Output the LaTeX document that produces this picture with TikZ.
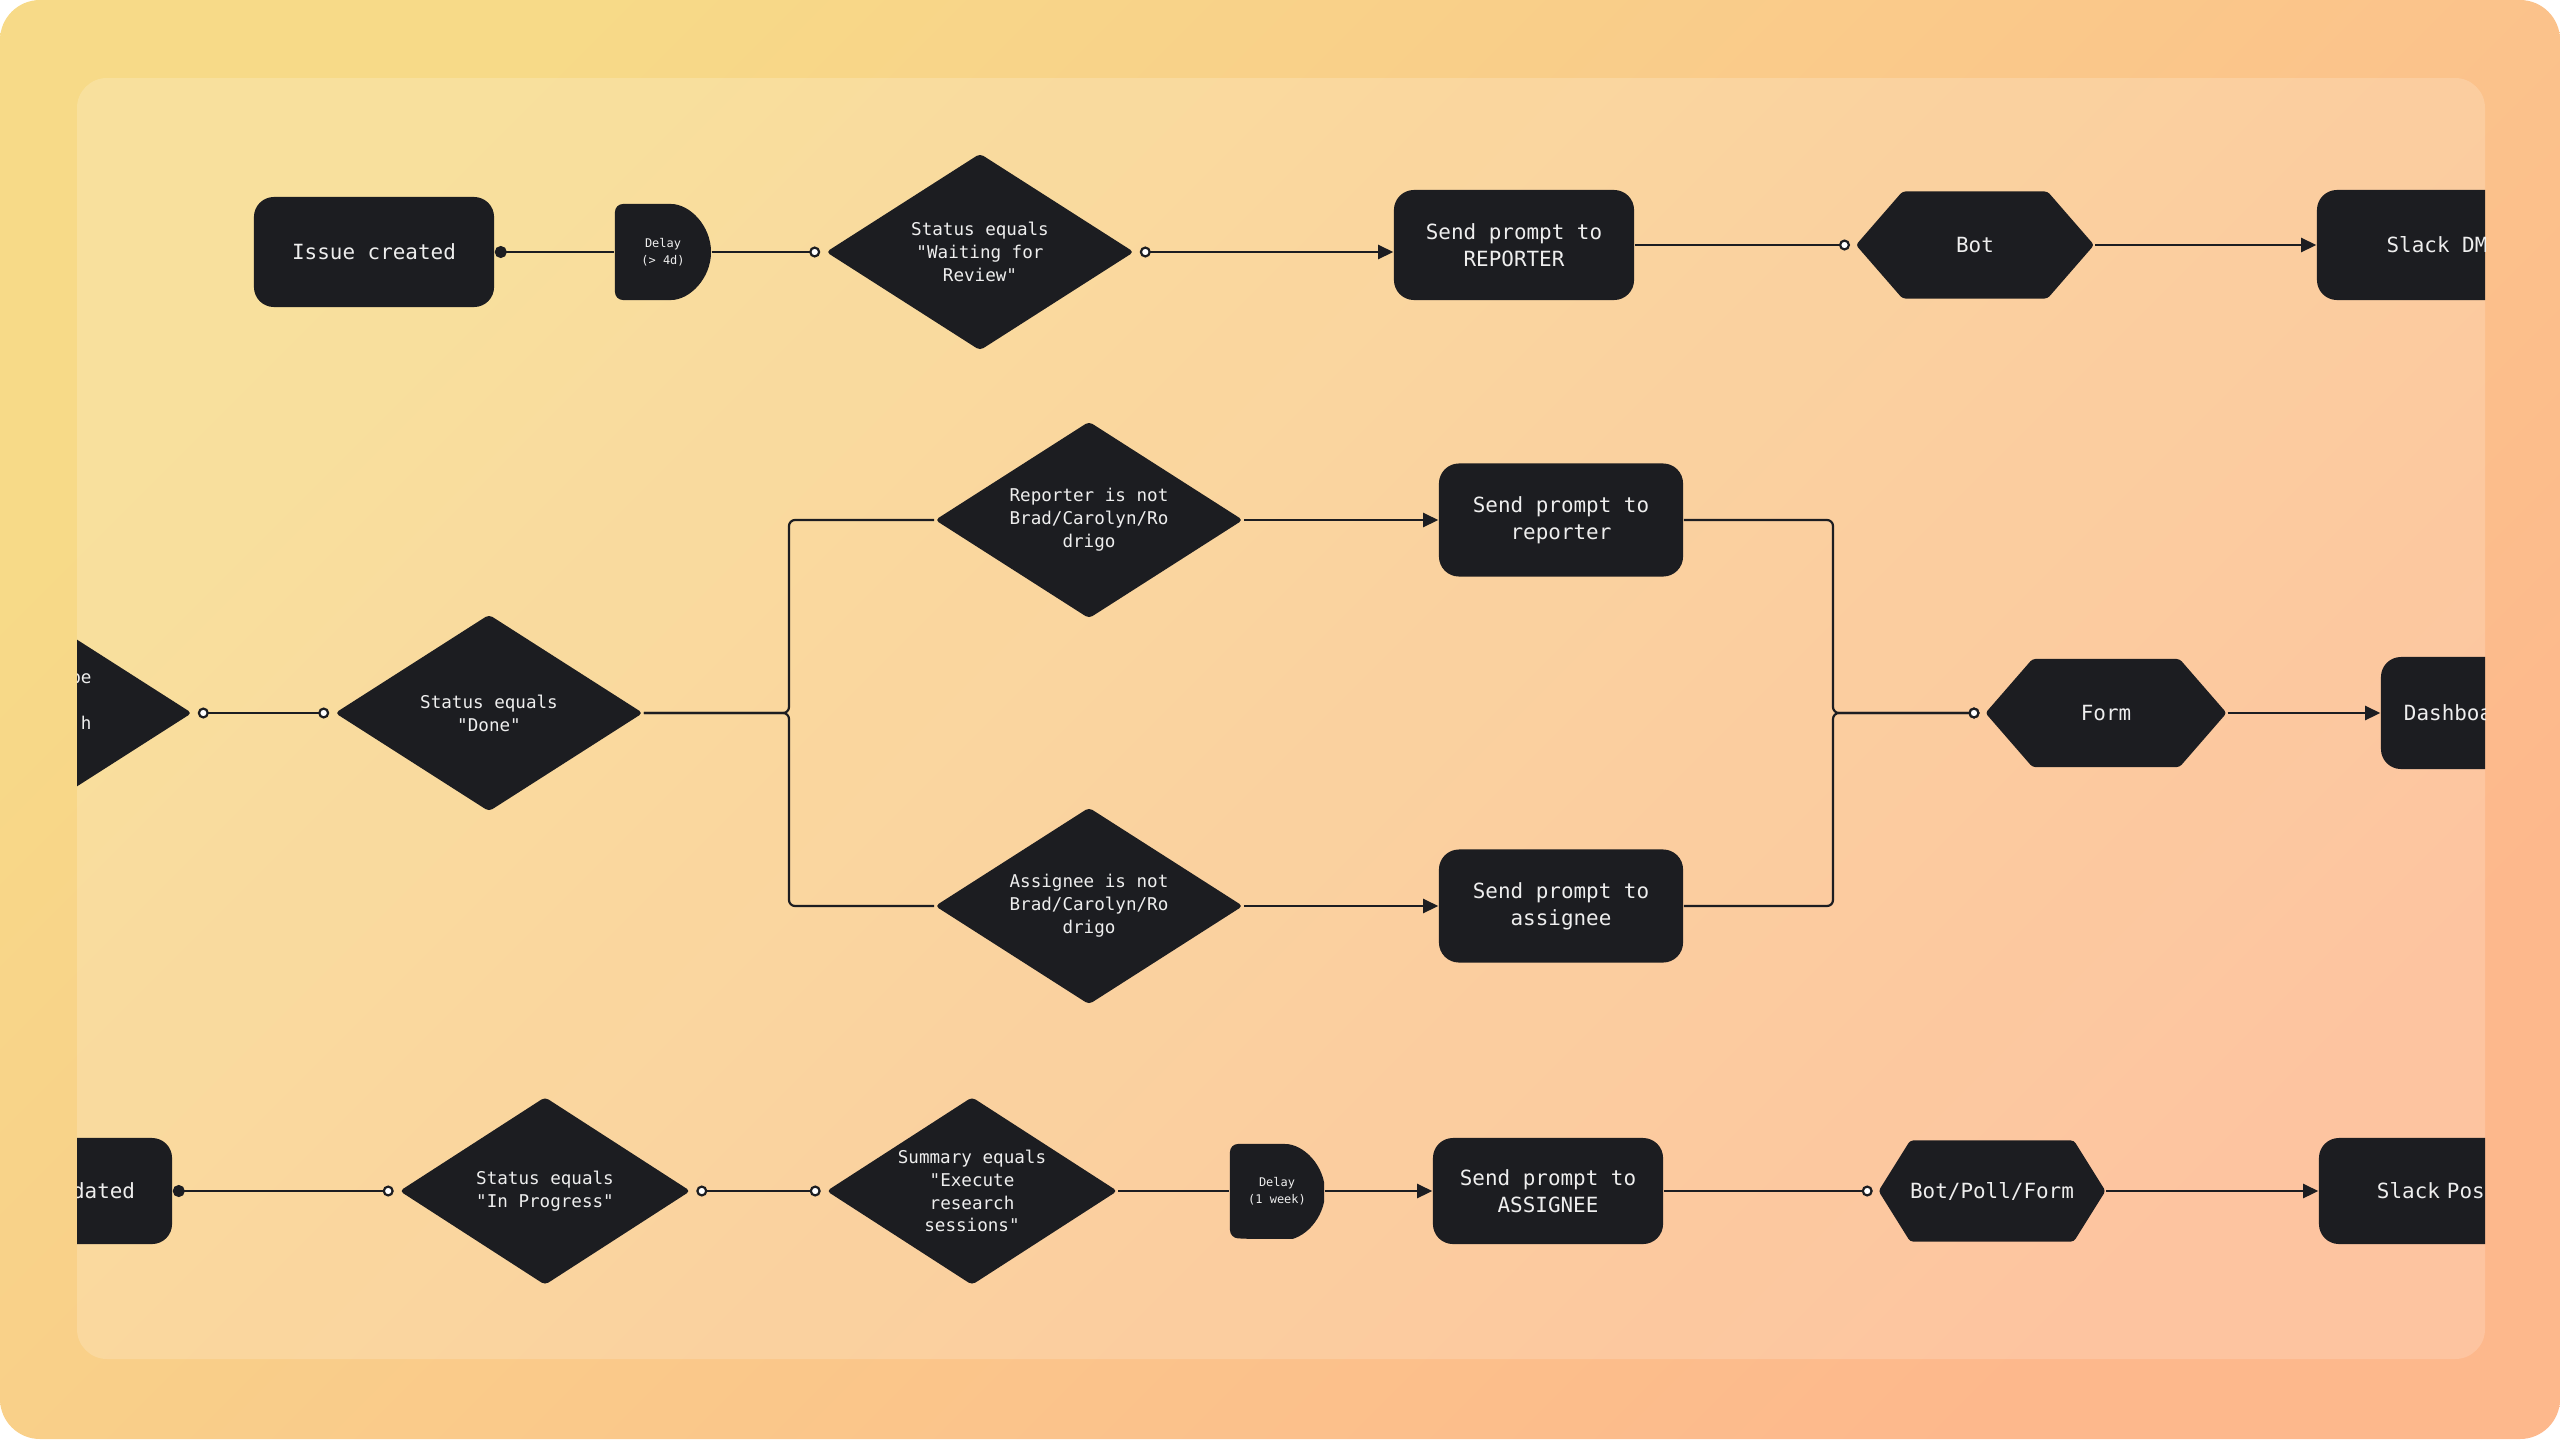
\documentclass[tikz,border=0pt]{standalone}
\usepackage{fontspec}
\setmonofont{DejaVu Sans Mono}
\usetikzlibrary{shapes.geometric, shapes.symbols, arrows.meta}

\definecolor{ink}{HTML}{1C1D21}
\definecolor{chalk}{HTML}{EEEEEE}
\definecolor{sunA}{HTML}{F7DA88}
\definecolor{sunB}{HTML}{FDB88C}

\tikzset{
  flow/.style={draw=ink, line width=0.022cm},
  box/.style={rectangle, rounded corners=0.2cm, fill=ink, text=chalk,
    minimum width=2.4cm, minimum height=1.1cm, align=center,
    font=\ttfamily\fontsize{5.95}{7.6}\selectfont},
  cond/.style={diamond, aspect=1.56, fill=ink, text=chalk, inner sep=0pt,
    minimum width=3.08cm, minimum height=1.97cm, rounded corners=0.04cm,
    align=center, font=\ttfamily\fontsize{5}{6.5}\selectfont},
  wait/.style={rectangle, minimum size=0.96cm, inner sep=0pt, text=chalk,
    align=center, font=\ttfamily\fontsize{3.4}{4.8}\selectfont,
    path picture={
      \fill[ink, rounded corners=0.08cm] (path picture bounding box.north west)
        -- (path picture bounding box.north)
        arc[start angle=90, end angle=-90, radius=0.48cm]
        -- (path picture bounding box.south west) -- cycle;
    }},
  chan/.style={signal, signal to=east and west, signal pointer angle=98,
    fill=ink, text=chalk, rounded corners=0.03cm,
    minimum width=2.38cm, minimum height=1.07cm, align=center,
    font=\ttfamily\fontsize{5.95}{7.6}\selectfont},
  dot/.tip={Circle[length=0.12cm]},
  ring/.tip={Circle[length=0.11cm, fill=white, sep=0.05cm]},
  >={Triangle[length=0.15cm, width=0.14cm]}
}

\begin{document}
\begin{tikzpicture}[x=0.01cm, y=-0.01cm]
  \useasboundingbox (0,0) rectangle (2560,1439);
  % backdrop and panel
  \fill[white] (0,0) rectangle (2560,1439);
  \shade[rounded corners=0.4cm, top color=sunA, bottom color=sunB, shading angle=45]
    (0,0) rectangle (2560,1439);
  \fill[white, fill opacity=0.18, rounded corners=0.3cm] (77,78) rectangle (2485,1359);

  \begin{scope}
    \clip[rounded corners=0.3cm] (77,78) rectangle (2485,1359);

    % row 1
    \node[box] (ic) at (374,252) {Issue created};
    \node[wait] (d1) at (663,252) {Delay\\(> 4d)};
    \node[cond] (q1) at (980,252) {Status equals\\"Waiting for\\Review"};
    \node[box] (sr) at (1514,245) {Send prompt to\\REPORTER};
    \node[chan] (bot) at (1975,245) {Bot};
    \node[box] (sdm) at (2437,245) {Slack DM};

    % row 2
    \node[cond, align=right, text width=1.07cm] (q0) at (38,713) {pe\\\mbox{}\\h\\\mbox{}};
    \node[cond] (qd) at (489,713) {Status equals\\"Done"};
    \node[cond] (qr) at (1089,520) {Reporter is not\\Brad/Carolyn/Ro\\drigo};
    \node[cond] (qa) at (1089,906) {Assignee is not\\Brad/Carolyn/Ro\\drigo};
    \node[box, minimum width=2.44cm, minimum height=1.13cm] (pr) at (1561,520) {Send prompt to\\reporter};
    \node[box, minimum width=2.44cm, minimum height=1.13cm] (pa) at (1561,906) {Send prompt to\\assignee};
    \node[chan, minimum width=2.41cm, minimum height=1.08cm] (form) at (2106,713) {Form};
    \node[box, minimum height=1.12cm, align=left, text width=1.94cm] (dash) at (2501,713) {Dashboa};
    \coordinate (jl) at (789,713);
    \coordinate (jr) at (1833,713);

    % row 3
    \node[box, minimum height=1.06cm, align=right, text width=1.66cm] (upd) at (52,1191) {dated};
    \node[cond, minimum width=2.91cm, minimum height=1.88cm] (q3) at (545,1191) {Status equals\\"In Progress"};
    \node[cond, minimum width=2.91cm, minimum height=1.88cm] (q4) at (972,1191) {Summary equals\\"Execute\\research\\sessions"};
    \node[wait, minimum size=0.94cm] (d2) at (1277,1191) {Delay\\(1 week)};
    \node[box, minimum width=2.3cm, minimum height=1.06cm] (sa) at (1548,1191) {Send prompt to\\ASSIGNEE};
    \node[chan, signal pointer angle=116, inner xsep=0pt, minimum width=2.25cm, minimum height=1.01cm] (bpf) at (1992,1191) {Bot/Poll/Form};
    \node[box, minimum height=1.06cm, align=left, text width=1.24cm] (spost) at (2439,1191) {Slack Pos};

    % connectors row 1
    \draw[flow, dot-] (ic.east) -- (d1.west);
    \draw[flow, -ring] (d1.east) -- (q1.west);
    \draw[flow, ring->] (q1.east) -- (q1.east -| sr.west);
    \draw[flow, -ring] (sr.east) -- (bot.west);
    \draw[flow, ->] (bot.east) -- (sdm.west);

    % connectors row 2
    \draw[flow, ring-ring] (q0.east) -- (qd.west);
    \draw[flow, rounded corners=0.06cm] (qd.east) -- (jl) |- (qr.west);
    \draw[flow, rounded corners=0.06cm] (qd.east) -- (jl) |- (qa.west);
    \draw[flow, ->] (qr.east) -- (pr.west);
    \draw[flow, ->] (qa.east) -- (pa.west);
    \draw[flow, -ring, rounded corners=0.06cm] (pr.east) -| (jr) -- (form.west);
    \draw[flow, -ring, rounded corners=0.06cm] (pa.east) -| (jr) -- (form.west);
    \draw[flow, ->] (form.east) -- (dash.west);

    % connectors row 3
    \draw[flow, dot-ring] (upd.east) -- (q3.west);
    \draw[flow, ring-ring] (q3.east) -- (q4.west);
    \draw[flow] (q4.east) -- (d2.west);
    \draw[flow, ->] (d2.east) -- (sa.west);
    \draw[flow, -ring] (sa.east) -- (bpf.west);
    \draw[flow, ->] (bpf.east) -- (spost.west);
  \end{scope}
\end{tikzpicture}
\end{document}
